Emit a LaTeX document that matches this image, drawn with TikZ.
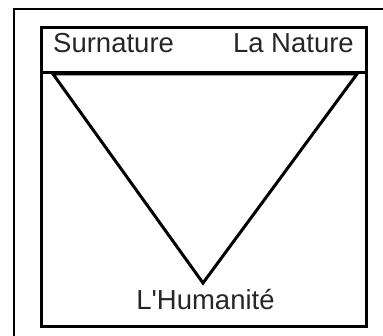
\documentclass[tikz,border=0pt]{standalone}
\usepackage{fontspec}
\setmainfont{Liberation Sans}
\usepackage{tikz}
\usetikzlibrary{positioning}

\begin{document}
\begin{tikzpicture}[
    x=1pt, y=-1pt,
    frame/.style={draw, line width=3pt},
    outer/.style={draw, line width=2pt},
    label/.style={font=\fontsize{27.5}{32}\selectfont, text=black!85, inner sep=0pt},
]
    \useasboundingbox (0,0) rectangle (383,336);
    % frames
    \draw[outer] (14,340) -- (14,9) -- (390,9);
    \draw[frame] (41.5,28) rectangle (366,327);
    \draw[frame] (41.5,73) -- (366,73);

    % triangle
    \coordinate (surn) at (53,74);
    \coordinate (nat) at (357,74);
    \coordinate (hum) at (203,283);
    \draw[line width=3pt, line join=miter] (surn) -- (nat) -- (hum) -- cycle;

    % labels
    \node[label, anchor=base west] (tsurn) at (53,53) {Surnature};
    \node[label, anchor=base east] (tnat) at (354,53) {La Nature};
    \node[label, anchor=base] (thum) at (205.5,310) {L\textquotesingle Humanité};
\end{tikzpicture}
\end{document}
